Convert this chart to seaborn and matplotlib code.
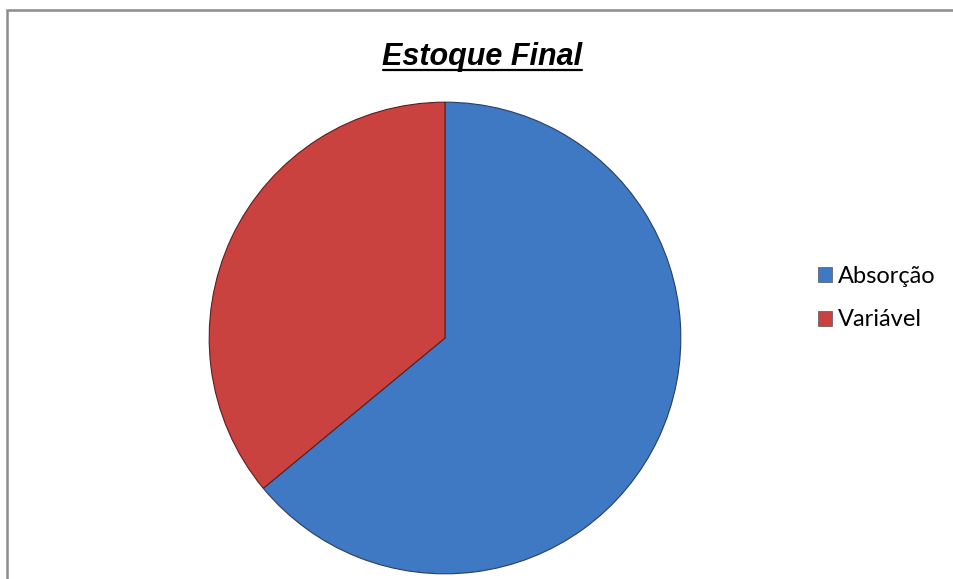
import matplotlib
matplotlib.use("Agg")
import matplotlib.pyplot as plt
import seaborn as sns
from matplotlib.patches import Rectangle, Patch

categories = ["Absorção", "Variável"]
values = [64, 36]
title = "Estoque Final"

sns.set_theme(style="white")
plt.rcParams["text.color"] = "black"
colors = ["#3F78C3", "#C9423F"]

fig = plt.figure(figsize=(9.54, 5.79), dpi=100)
fig.patch.set_facecolor("white")

# outer chart border (partly cut by image edge)
fig.add_artist(Rectangle((7 / 954, -0.05), 1.2, (579 - 10) / 579 + 0.05,
                         transform=fig.transFigure, fill=False,
                         edgecolor="#8c8c8c", linewidth=1.8))

ax = fig.add_axes([208 / 954, 4 / 579, 474 / 954, 474 / 579])
wedges, _ = ax.pie(values, colors=colors, startangle=90, counterclock=False,
                   radius=1.0,
                   wedgeprops=dict(edgecolor="#2a3f5f", linewidth=0.8))
wedges[1].set_edgecolor("#5a2020")
ax.set_xlim(-1.005, 1.005)
ax.set_ylim(-1.005, 1.005)
ax.set_aspect("equal")
ax.axis("off")

fig.text(482 / 954, 1 - 57 / 579, title, ha="center", va="center",
         fontsize=22, fontweight="bold", fontstyle="italic",
         family="Liberation Sans", color="black")
# underline
fig.add_artist(plt.Line2D([383 / 954, 582 / 954], [1 - 70 / 579, 1 - 70 / 579],
                          transform=fig.transFigure, color="black", linewidth=1.6))

handles = [Patch(facecolor=c, edgecolor="#555555", linewidth=0.5) for c in colors]
leg = fig.legend(handles, categories, loc="center left",
                 bbox_to_anchor=(818 / 954, 1 - 298 / 579), frameon=False,
                 prop=dict(family="Lato", size=17), handlelength=0.6,
                 handleheight=0.6, handletextpad=0.25, labelspacing=0.96,
                 borderpad=0, borderaxespad=0)
for t in leg.get_texts():
    t.set_color("black")

fig.savefig("out.png", dpi=100, facecolor="white")
